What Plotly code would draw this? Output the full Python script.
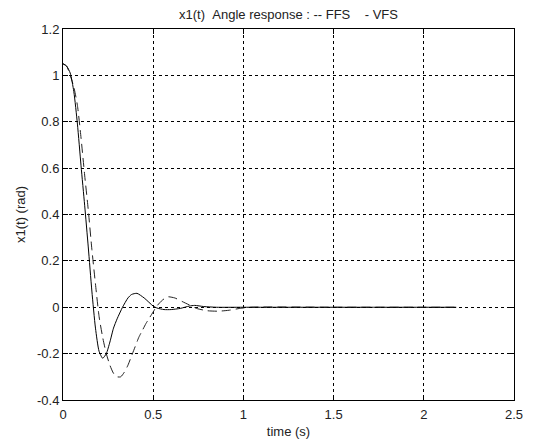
import plotly.graph_objects as go

# VFS (solid)
t_vfs = [0, 0.02, 0.04, 0.06, 0.08, 0.10, 0.12, 0.14, 0.16, 0.18, 0.20, 0.22, 0.24, 0.26,
         0.28, 0.30, 0.33, 0.36, 0.38, 0.41, 0.45, 0.50, 0.52, 0.56, 0.60, 0.65, 0.70, 0.73,
         0.78, 0.85, 1.0, 1.5, 2.0, 2.18]
x_vfs = [1.05, 1.04, 1.01, 0.93, 0.79, 0.61, 0.44, 0.26, 0.07, -0.09, -0.19, -0.22, -0.20, -0.15,
         -0.09, -0.05, 0.0, 0.04, 0.055, 0.06, 0.04, 0.005, -0.003, -0.01, -0.01, -0.005, 0.005, 0.008,
         0.003, 0.0, 0.0, 0.0, 0.0, 0.0]

# FFS (dashed)
t_ffs = [0, 0.02, 0.04, 0.06, 0.08, 0.10, 0.12, 0.14, 0.16, 0.18, 0.20, 0.22, 0.24, 0.26, 0.28,
         0.30, 0.32, 0.34, 0.36, 0.38, 0.40, 0.42, 0.44, 0.46, 0.48, 0.50, 0.52, 0.55, 0.58, 0.62,
         0.66, 0.70, 0.74, 0.80, 0.86, 0.92, 0.98, 1.04, 1.5, 2.0, 2.18]
x_ffs = [1.05, 1.04, 1.0, 0.95, 0.87, 0.73, 0.57, 0.42, 0.25, 0.10, -0.04, -0.13, -0.20, -0.25, -0.285,
         -0.30, -0.30, -0.28, -0.25, -0.21, -0.17, -0.13, -0.10, -0.07, -0.045, -0.02, 0.005, 0.03, 0.045, 0.04,
         0.025, 0.01, -0.005, -0.015, -0.017, -0.013, -0.005, 0.0, 0.0, 0.0, 0.0]

x_ticks = [0, 0.5, 1, 1.5, 2, 2.5]
x_tick_labels = ["0", "0.5", "1", "1.5", "2", "2.5"]
y_ticks = [-0.4, -0.2, 0, 0.2, 0.4, 0.6, 0.8, 1, 1.2]
y_tick_labels = ["-0.4", "-0.2", "0", "0.2", "0.4", "0.6", "0.8", "1", "1.2"]

fig = go.Figure()
fig.add_trace(go.Scatter(x=t_ffs, y=x_ffs, mode="lines", name="FFS",
                         line=dict(color="#222222", width=1, dash="9px,5px", shape="spline", smoothing=0.6)))
fig.add_trace(go.Scatter(x=t_vfs, y=x_vfs, mode="lines", name="VFS",
                         line=dict(color="black", width=1, shape="spline", smoothing=0.6)))

font = dict(family="Liberation Sans, Arial, sans-serif", size=13, color="#222222")
axis_common = dict(showline=True, linecolor="black", linewidth=1, mirror="ticks",
                   ticks="inside", ticklen=5, tickcolor="black",
                   showgrid=True, gridcolor="black", gridwidth=1, griddash="3px,3px",
                   zeroline=False, tickfont=font, automargin=False)

nb = "\u00a0"
title_text = f"x1(t){nb}{nb}Angle response : -- FFS{nb}{nb}{nb}{nb}- VFS"

fig.update_layout(
    width=543, height=441,
    margin=dict(l=63, r=29, t=29, b=41),
    paper_bgcolor="white", plot_bgcolor="white",
    showlegend=False,
    font=font,
    title=dict(text=title_text, xref="paper", x=0.5, xanchor="center",
               y=1 - 14 / 441, yanchor="middle", font=font),
    xaxis=dict(range=[0, 2.5], tickvals=x_ticks, ticktext=x_tick_labels, ticklabelstandoff=2,
               title=dict(text="time (s)", font=font, standoff=6), **axis_common),
    yaxis=dict(range=[-0.4, 1.2], tickvals=y_ticks, ticktext=y_tick_labels,
               title=dict(text=f"x1(t){nb}(rad)", font=font, standoff=8), **axis_common),
)

fig.write_html("out.html")
